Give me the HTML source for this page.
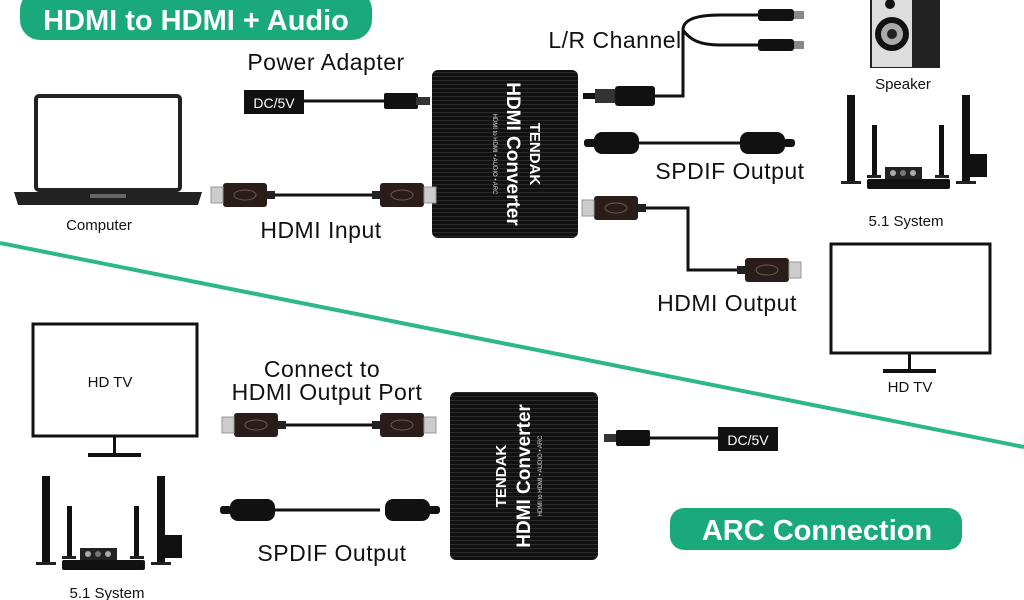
<!DOCTYPE html>
<html><head><meta charset="utf-8"><style>
body{margin:0;background:#fff}
svg{display:block}
text{font-family:"Liberation Sans",Arial,sans-serif}
.L{font-size:23px;letter-spacing:0.5px}
.S{font-size:15px}
</style></head><body>
<svg width="1024" height="600" viewBox="0 0 1024 600" xmlns="http://www.w3.org/2000/svg">
<defs>
<g id="hdmiR">
<rect x="0" y="-4" width="8" height="8" fill="#222"/>
<rect x="8" y="-12" width="44" height="24" rx="3" fill="#2a1c18"/>
<ellipse cx="30" cy="0" rx="11" ry="5" fill="none" stroke="#6a5a50" stroke-width="1"/>
<rect x="52" y="-8" width="12" height="16" fill="#ccc" stroke="#999"/>
</g>
<g id="spdif">
<rect x="0" y="-11" width="45" height="22" rx="8" fill="#111"/>
<rect x="-10" y="-4" width="12" height="8" rx="3" fill="#111"/>
</g>
<g id="sys">
<rect x="0" y="0" width="8" height="88" fill="#111"/><rect x="-6" y="86" width="20" height="3" fill="#222"/>
<rect x="25" y="30" width="5" height="52" fill="#111"/><rect x="20" y="80" width="14" height="3" fill="#222"/>
<rect x="38" y="72" width="37" height="12" fill="#222"/>
<circle cx="46" cy="78" r="3" fill="#aaa"/><circle cx="56" cy="78" r="3" fill="#777"/><circle cx="66" cy="78" r="3" fill="#aaa"/>
<rect x="20" y="84" width="83" height="10" rx="2" fill="#111"/>
<rect x="92" y="30" width="5" height="52" fill="#111"/><rect x="88" y="80" width="14" height="3" fill="#222"/>
<rect x="115" y="0" width="8" height="88" fill="#111"/><rect x="109" y="86" width="20" height="3" fill="#222"/>
<rect x="123" y="59" width="17" height="23" fill="#111"/>
</g>
<pattern id="lines" width="4" height="4" patternUnits="userSpaceOnUse"><rect width="4" height="4" fill="#111"/><rect width="4" height="1" fill="#2a2a2a"/></pattern>
</defs>

<line x1="0" y1="243" x2="1024" y2="447" stroke="#2cb88a" stroke-width="4"/>

<rect x="20" y="-10" width="352" height="50" rx="20" fill="#19a97a"/>
<text x="196" y="30" font-size="29" font-weight="bold" fill="#fff" text-anchor="middle">HDMI to HDMI + Audio</text>
<rect x="670" y="508" width="292" height="42" rx="14" fill="#19a97a"/>
<text x="817" y="540" font-size="29" font-weight="bold" fill="#fff" text-anchor="middle">ARC Connection</text>

<rect x="36" y="96" width="144" height="94" rx="3" fill="none" stroke="#222" stroke-width="4"/>
<path d="M14 192 H202 L198 205 H18 Z" fill="#222"/>
<rect x="90" y="194" width="36" height="4" fill="#666"/>
<text x="99" y="230" class="S" fill="#111" text-anchor="middle">Computer</text>

<rect x="432" y="70" width="146" height="168" rx="6" fill="url(#lines)"/>
<g transform="translate(505,154) rotate(90)">
<text x="0" y="-2" font-size="19" font-weight="bold" fill="#fff" text-anchor="middle">HDMI Converter</text>
<text x="0" y="12" font-size="6" fill="#ddd" text-anchor="middle">HDMI to HDMI • AUDIO • ARC</text>
<text x="0" y="-25" font-size="15" font-weight="bold" fill="#fff" text-anchor="middle">TENDAK</text>
</g>

<text x="326" y="70" class="L" fill="#111" text-anchor="middle">Power Adapter</text>
<rect x="244" y="90" width="60" height="24" fill="#111"/>
<text x="274" y="108" font-size="14" fill="#fff" text-anchor="middle">DC/5V</text>
<line x1="304" y1="101" x2="385" y2="101" stroke="#111" stroke-width="3"/>
<rect x="384" y="93" width="34" height="16" rx="2" fill="#111"/><rect x="416" y="97" width="14" height="8" fill="#333"/>

<line x1="270" y1="195" x2="380" y2="195" stroke="#111" stroke-width="3"/>
<use href="#hdmiR" transform="translate(275,195) scale(-1,1)"/>
<use href="#hdmiR" transform="translate(372,195)"/>
<text x="321" y="238" class="L" fill="#111" text-anchor="middle">HDMI Input</text>

<text x="615" y="48" class="L" fill="#111" text-anchor="middle">L/R Channel</text>
<rect x="583" y="93" width="12" height="6" fill="#111"/>
<rect x="595" y="89" width="20" height="14" fill="#333"/>
<rect x="615" y="86" width="40" height="20" rx="3" fill="#111"/>
<path d="M655 96 H683 V30 C683 20 695 15 720 15 H760 M683 30 C690 40 700 45 720 45 H760" fill="none" stroke="#111" stroke-width="3"/>
<rect x="758" y="9" width="36" height="12" rx="3" fill="#111"/><rect x="794" y="11" width="10" height="8" fill="#888"/>
<rect x="758" y="39" width="36" height="12" rx="3" fill="#111"/><rect x="794" y="41" width="10" height="8" fill="#888"/>

<line x1="620" y1="143" x2="740" y2="143" stroke="#111" stroke-width="3"/>
<use href="#spdif" transform="translate(594,143)"/>
<use href="#spdif" transform="translate(785,143) scale(-1,1)"/>
<text x="730" y="179" class="L" fill="#111" text-anchor="middle">SPDIF Output</text>

<path d="M640 208 H688 V270 H745" fill="none" stroke="#111" stroke-width="3"/>
<use href="#hdmiR" transform="translate(646,208) scale(-1,1)"/>
<use href="#hdmiR" transform="translate(737,270)"/>
<text x="727" y="311" class="L" fill="#111" text-anchor="middle">HDMI Output</text>

<rect x="870" y="-5" width="70" height="73" fill="#222"/>
<rect x="872" y="-5" width="40" height="72" fill="#ddd"/>
<circle cx="892" cy="34" r="17" fill="#111"/><circle cx="892" cy="34" r="11" fill="#aaa"/><circle cx="892" cy="34" r="5" fill="#222"/>
<circle cx="890" cy="4" r="5" fill="#111"/>
<text x="903" y="89" class="S" fill="#111" text-anchor="middle">Speaker</text>

<use href="#sys" transform="translate(847,95)"/>
<text x="906" y="226" class="S" fill="#111" text-anchor="middle">5.1 System</text>

<rect x="831" y="244" width="159" height="109" fill="none" stroke="#111" stroke-width="3"/>
<rect x="908" y="353" width="3" height="16" fill="#111"/><rect x="883" y="369" width="53" height="4" fill="#111"/>
<text x="910" y="392" class="S" fill="#111" text-anchor="middle">HD TV</text>

<rect x="33" y="324" width="164" height="112" fill="none" stroke="#111" stroke-width="3"/>
<text x="110" y="387" class="S" fill="#111" text-anchor="middle">HD TV</text>
<rect x="113" y="436" width="3" height="18" fill="#111"/><rect x="88" y="453" width="53" height="4" fill="#111"/>

<use href="#sys" transform="translate(42,476)"/>
<text x="107" y="598" class="S" fill="#111" text-anchor="middle">5.1 System</text>

<text x="322" y="377" class="L" fill="#111" text-anchor="middle">Connect to</text>
<text x="327" y="400" class="L" fill="#111" text-anchor="middle">HDMI Output Port</text>
<line x1="280" y1="425" x2="375" y2="425" stroke="#111" stroke-width="3"/>
<use href="#hdmiR" transform="translate(286,425) scale(-1,1)"/>
<use href="#hdmiR" transform="translate(372,425)"/>

<line x1="250" y1="510" x2="380" y2="510" stroke="#111" stroke-width="3"/>
<use href="#spdif" transform="translate(230,510)"/>
<use href="#spdif" transform="translate(430,510) scale(-1,1)"/>
<text x="332" y="561" class="L" fill="#111" text-anchor="middle">SPDIF Output</text>

<rect x="450" y="392" width="148" height="168" rx="6" fill="url(#lines)"/>
<g transform="translate(524,476) rotate(-90)">
<text x="0" y="6" font-size="19" font-weight="bold" fill="#fff" text-anchor="middle">HDMI Converter</text>
<text x="0" y="18" font-size="6" fill="#ddd" text-anchor="middle">HDMI to HDMI • AUDIO • ARC</text>
<text x="0" y="-18" font-size="15" font-weight="bold" fill="#fff" text-anchor="middle">TENDAK</text>
</g>

<rect x="604" y="434" width="14" height="8" fill="#333"/>
<rect x="616" y="430" width="34" height="16" rx="2" fill="#111"/>
<line x1="650" y1="438" x2="718" y2="438" stroke="#111" stroke-width="3"/>
<rect x="718" y="427" width="60" height="24" fill="#111"/>
<text x="748" y="445" font-size="14" fill="#fff" text-anchor="middle">DC/5V</text>
</svg>
</body></html>
